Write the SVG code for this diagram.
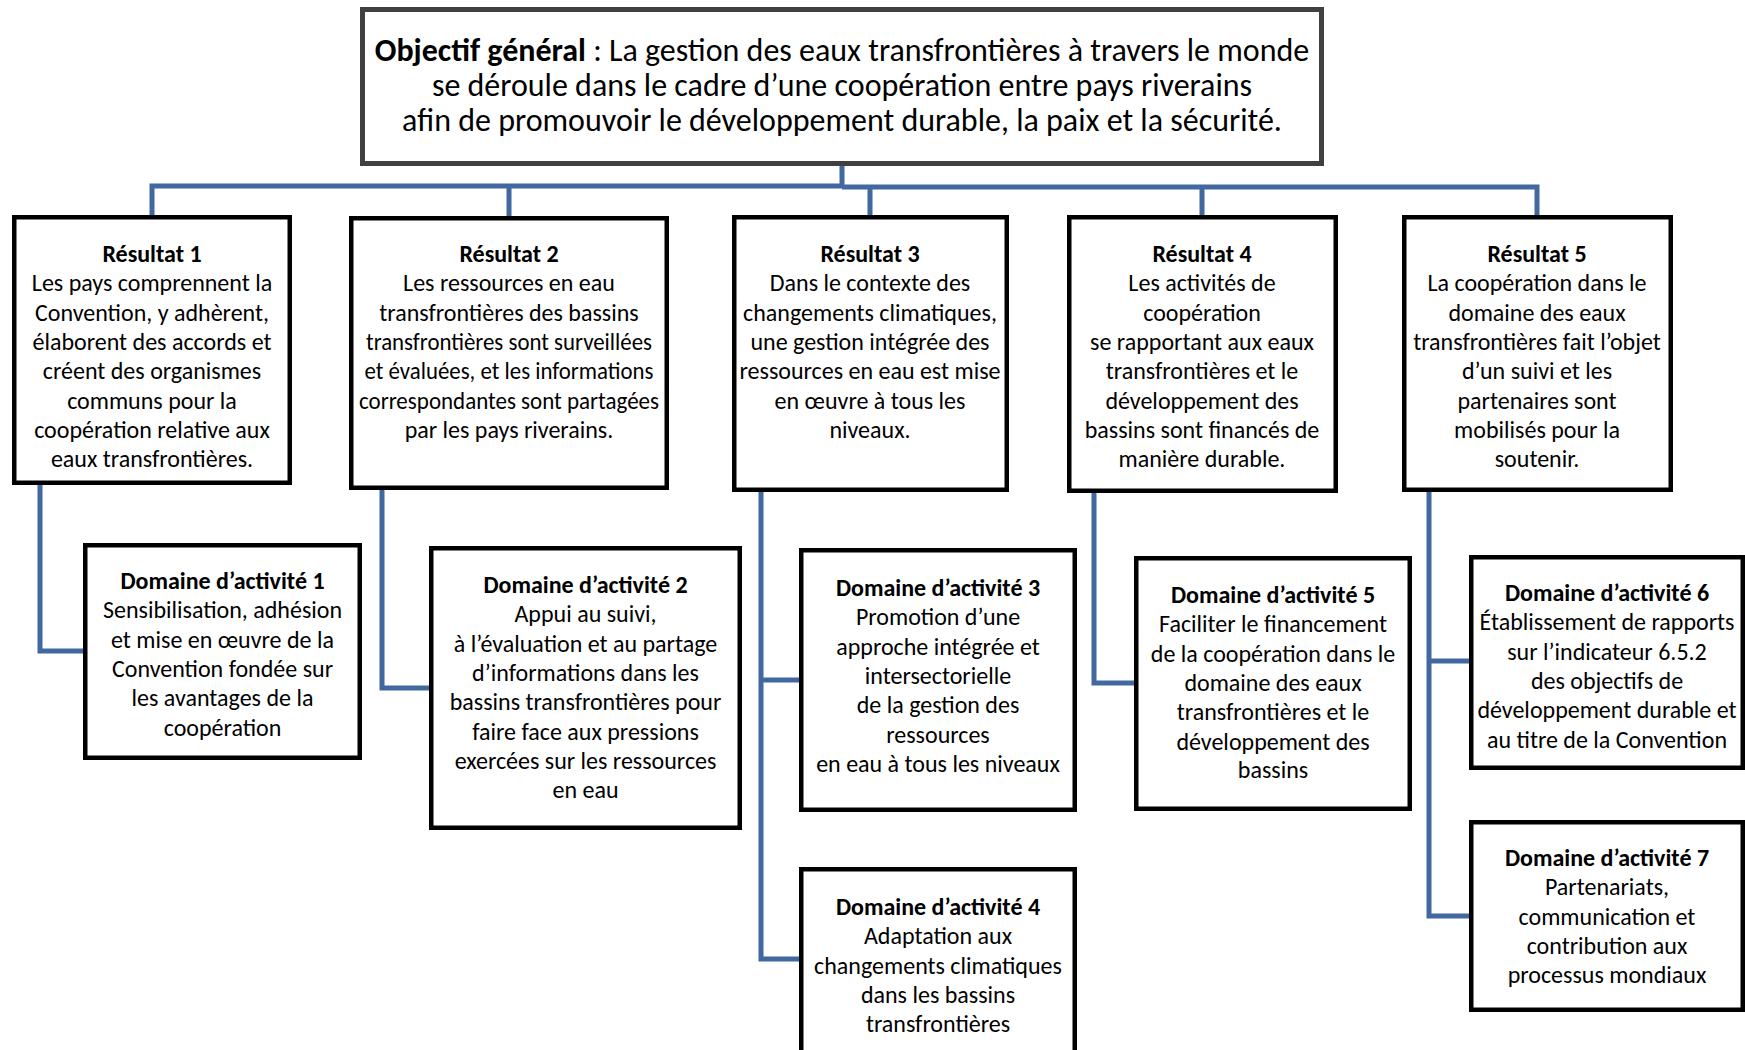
<svg xmlns="http://www.w3.org/2000/svg" width="1745" height="1050" viewBox="0 0 1745 1050">
<style>
.bg{fill:#ffffff}
.box{fill:#ffffff;stroke:#000000;stroke-width:4.5}
.top{fill:#ffffff;stroke:#404040;stroke-width:5}
.conn{fill:none;stroke:#41699f;stroke-width:5}
text{font-family:Carlito,Lato,"Liberation Sans",sans-serif;fill:#000000;text-anchor:middle}
.t{font-size:32px}
.n{font-size:24px}
.b{font-weight:bold}
</style>
<rect class="bg" x="0" y="0" width="1745" height="1050"/>
<g id="connectors">
<path class="conn" d="M842 164 V186 M152 215 V186 H842 M842 187 H1537 V215 M509 216 V187 M870 215 V187 M1202 215 V187"/>
<path class="conn" d="M40 485 V651 H85"/>
<path class="conn" d="M382 490 V688 H431"/>
<path class="conn" d="M761 492 V959 H801 M761 680 H801"/>
<path class="conn" d="M1094 493 V683 H1136"/>
<path class="conn" d="M1429 492 V916 H1471 M1429 661 H1471"/>
</g>
<g id="objectif">
<rect class="top" x="362.5" y="9.5" width="959" height="154"/>
<text class="t" x="842"><tspan x="842" y="61"><tspan class="b">Objectif général</tspan> : La gestion des eaux transfrontières à travers le monde</tspan><tspan x="842" y="96">se déroule dans le cadre d’une coopération entre pays riverains</tspan><tspan x="842" y="131">afin de promouvoir le développement durable, la paix et la sécurité.</tspan></text>
</g>
<g id="resultat1">
<rect class="box" x="14.25" y="217.25" width="275.5" height="265.5"/>
<text class="n" x="152"><tspan class="b" x="152" y="262">Résultat 1</tspan><tspan x="152" y="291">Les pays comprennent la</tspan><tspan x="152" y="320.5">Convention, y adhèrent,</tspan><tspan x="152" y="350">élaborent des accords et</tspan><tspan x="152" y="379">créent des organismes</tspan><tspan x="152" y="408.5">communs pour la</tspan><tspan x="152" y="438">coopération relative aux</tspan><tspan x="152" y="467">eaux transfrontières.</tspan></text>
</g>
<g id="resultat2">
<rect class="box" x="351.25" y="218.25" width="315.5" height="269.5"/>
<text class="n" x="509" y="262"><tspan class="b">Résultat 2</tspan></text>
<text class="n" x="509" y="291">Les ressources en eau</text>
<text class="n" x="509" y="320.5">transfrontières des bassins</text>
<text class="n" x="509" y="350" textLength="286" lengthAdjust="spacingAndGlyphs">transfrontières sont surveillées</text>
<text class="n" x="509" y="379" textLength="289" lengthAdjust="spacingAndGlyphs">et évaluées, et les informations</text>
<text class="n" x="509" y="408.5" textLength="300" lengthAdjust="spacingAndGlyphs">correspondantes sont partagées</text>
<text class="n" x="509" y="438">par les pays riverains.</text>
</g>
<g id="resultat3">
<rect class="box" x="734.25" y="217.25" width="272.5" height="272.5"/>
<text class="n" x="870"><tspan class="b" x="870" y="262">Résultat 3</tspan><tspan x="870" y="291">Dans le contexte des</tspan><tspan x="870" y="320.5">changements climatiques,</tspan><tspan x="870" y="350">une gestion intégrée des</tspan><tspan x="870" y="379">ressources en eau est mise</tspan><tspan x="870" y="408.5">en œuvre à tous les</tspan><tspan x="870" y="438">niveaux.</tspan></text>
</g>
<g id="resultat4">
<rect class="box" x="1069.25" y="217.25" width="266.5" height="273.5"/>
<text class="n" x="1202"><tspan class="b" x="1202" y="262">Résultat 4</tspan><tspan x="1202" y="291">Les activités de</tspan><tspan x="1202" y="320.5">coopération</tspan><tspan x="1202" y="350">se rapportant aux eaux</tspan><tspan x="1202" y="379">transfrontières et le</tspan><tspan x="1202" y="408.5">développement des</tspan><tspan x="1202" y="438">bassins sont financés de</tspan><tspan x="1202" y="467">manière durable.</tspan></text>
</g>
<g id="resultat5">
<rect class="box" x="1404.25" y="217.25" width="266.5" height="272.5"/>
<text class="n" x="1537"><tspan class="b" x="1537" y="262">Résultat 5</tspan><tspan x="1537" y="291">La coopération dans le</tspan><tspan x="1537" y="320.5">domaine des eaux</tspan><tspan x="1537" y="350">transfrontières fait l’objet</tspan><tspan x="1537" y="379">d’un suivi et les</tspan><tspan x="1537" y="408.5">partenaires sont</tspan><tspan x="1537" y="438">mobilisés pour la</tspan><tspan x="1537" y="467">soutenir.</tspan></text>
</g>
<g id="domaine1">
<rect class="box" x="85.25" y="545.25" width="274.5" height="212.5"/>
<text class="n" x="222.5"><tspan class="b" x="222.5" y="589">Domaine d’activité 1</tspan><tspan x="222.5" y="618">Sensibilisation, adhésion</tspan><tspan x="222.5" y="647.5">et mise en œuvre de la</tspan><tspan x="222.5" y="677">Convention fondée sur</tspan><tspan x="222.5" y="706">les avantages de la</tspan><tspan x="222.5" y="735.5">coopération</tspan></text>
</g>
<g id="domaine2">
<rect class="box" x="431.25" y="548.25" width="308.5" height="279.5"/>
<text class="n" x="585.5"><tspan class="b" x="585.5" y="593">Domaine d’activité 2</tspan><tspan x="585.5" y="622">Appui au suivi,</tspan><tspan x="585.5" y="651.5">à l’évaluation et au partage</tspan><tspan x="585.5" y="681">d’informations dans les</tspan><tspan x="585.5" y="710">bassins transfrontières pour</tspan><tspan x="585.5" y="739.5">faire face aux pressions</tspan><tspan x="585.5" y="769">exercées sur les ressources</tspan><tspan x="585.5" y="798">en eau</tspan></text>
</g>
<g id="domaine3">
<rect class="box" x="801.25" y="550.25" width="273.5" height="259.5"/>
<text class="n" x="938"><tspan class="b" x="938" y="596">Domaine d’activité 3</tspan><tspan x="938" y="625">Promotion d’une</tspan><tspan x="938" y="654.5">approche intégrée et</tspan><tspan x="938" y="684">intersectorielle</tspan><tspan x="938" y="713">de la gestion des</tspan><tspan x="938" y="742.5">ressources</tspan><tspan x="938" y="772">en eau à tous les niveaux</tspan></text>
</g>
<g id="domaine4">
<rect class="box" x="801.25" y="869.25" width="273.5" height="195"/>
<text class="n" x="938"><tspan class="b" x="938" y="915">Domaine d’activité 4</tspan><tspan x="938" y="944">Adaptation aux</tspan><tspan x="938" y="973.5">changements climatiques</tspan><tspan x="938" y="1003">dans les bassins</tspan><tspan x="938" y="1032">transfrontières</tspan></text>
</g>
<g id="domaine5">
<rect class="box" x="1136.25" y="558.25" width="273.5" height="250.5"/>
<text class="n" x="1273"><tspan class="b" x="1273" y="603">Domaine d’activité 5</tspan><tspan x="1273" y="632">Faciliter le financement</tspan><tspan x="1273" y="661.5">de la coopération dans le</tspan><tspan x="1273" y="691">domaine des eaux</tspan><tspan x="1273" y="720">transfrontières et le</tspan><tspan x="1273" y="749.5">développement des</tspan><tspan x="1273" y="778">bassins</tspan></text>
</g>
<g id="domaine6">
<rect class="box" x="1471.25" y="557.25" width="271.5" height="210.5"/>
<text class="n" x="1607"><tspan class="b" x="1607" y="601">Domaine d’activité 6</tspan><tspan x="1607" y="630">Établissement de rapports</tspan><tspan x="1607" y="659.5">sur l’indicateur 6.5.2</tspan><tspan x="1607" y="689">des objectifs de</tspan><tspan x="1607" y="718">développement durable et</tspan><tspan x="1607" y="747.5">au titre de la Convention</tspan></text>
</g>
<g id="domaine7">
<rect class="box" x="1471.25" y="822.25" width="271.5" height="187.5"/>
<text class="n" x="1607"><tspan class="b" x="1607" y="866">Domaine d’activité 7</tspan><tspan x="1607" y="895">Partenariats,</tspan><tspan x="1607" y="924.5">communication et</tspan><tspan x="1607" y="954">contribution aux</tspan><tspan x="1607" y="983">processus mondiaux</tspan></text>
</g>
</svg>
